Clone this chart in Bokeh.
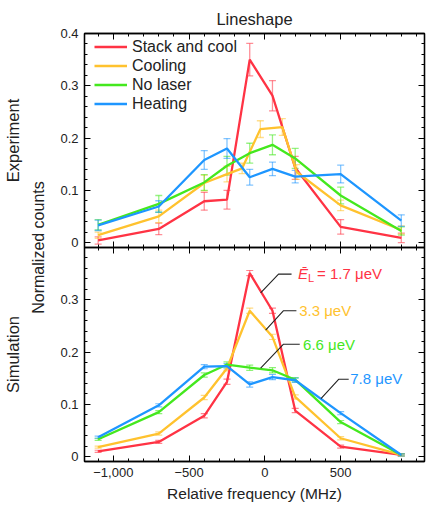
import math
from bokeh.plotting import figure
from bokeh.models import (Range1d, LinearAxis, FixedTicker, ColumnDataSource, Whisker,
                          TeeHead, Legend, LegendItem, Label, CustomJSTickFormatter)
from bokeh.embed import file_html
from bokeh.resources import INLINE

# ---------------- data ----------------
freq = [-1100, -700, -400, -250, -100, 50, 200, 500, 900]
freq_cool = [-1100, -700, -400, -250, -150, -30, 115, 210, 500, 900]

exp_stack = [0.004, 0.026, 0.079, 0.082, 0.350, 0.281, 0.143, 0.030, 0.009]
err_stack = [0.007, 0.011, 0.017, 0.018, 0.031, 0.029, 0.022, 0.014, 0.009]
exp_cool = [0.014, 0.050, 0.114, 0.131, 0.142, 0.217, 0.221, 0.135, 0.071, 0.024]
err_cool = [0.006, 0.012, 0.015, 0.015, 0.010, 0.016, 0.016, 0.014, 0.010, 0.008]
exp_nolaser = [0.034, 0.074, 0.115, 0.147, 0.171, 0.187, 0.161, 0.090, 0.022]
err_nolaser = [0.010, 0.016, 0.015, 0.018, 0.019, 0.019, 0.019, 0.016, 0.008]
exp_heat = [0.033, 0.069, 0.158, 0.180, 0.125, 0.141, 0.126, 0.131, 0.042]
err_heat = [0.010, 0.011, 0.018, 0.019, 0.015, 0.013, 0.012, 0.017, 0.011]

sim_17 = [0.010, 0.028, 0.078, 0.143, 0.351, 0.279, 0.088, 0.019, 0.003]
sim_33 = [0.018, 0.044, 0.113, 0.169, 0.279, 0.229, 0.114, 0.035, 0.003]
sim_66 = [0.033, 0.085, 0.156, 0.176, 0.170, 0.165, 0.147, 0.066, 0.003]
sim_78 = [0.037, 0.098, 0.172, 0.173, 0.138, 0.152, 0.146, 0.083, 0.003]
sim_err = [0.002, 0.003, 0.004, 0.005, 0.005, 0.005, 0.004, 0.003, 0.002]

series_names = ["Stack and cool", "Cooling", "No laser", "Heating"]
panel_names = ["Experiment", "Simulation"]
sim_texts = ["= 1.7 \u03bceV", "3.3 \u03bceV", "6.6 \u03bceV", "7.8 \u03bceV"]
x_tick_labels = {-1000: "\u22121,000", -500: "\u2212500", 0: "0", 500: "500"}

colors = ["#FF3344", "#FFC22E", "#44E81E", "#1E96FF"]
FONT = "Liberation Sans"
TXT = "#222222"

# ---------------- figure ----------------
X0, X1 = -1190, 1053
LO, HI = -0.0095, 0.4
SPAN = HI - LO

p = figure(width=428, height=507, x_range=Range1d(X0, X1),
           y_range=Range1d(LO - SPAN, HI), x_axis_type=None, y_axis_type=None,
           title="Lineshape",
           output_backend="svg", toolbar_location=None,
           min_border_left=77, min_border_right=4, min_border_top=33, min_border_bottom=46)
p.extra_y_ranges = {"sim": Range1d(LO, HI + SPAN)}
p.outline_line_color = "black"
p.outline_line_width = 1.3
p.title.align = "center"
p.title.text_font = FONT
p.title.text_font_size = "16.5px"
p.title.text_font_style = "normal"
p.title.text_color = TXT
p.title.standoff = 11

blank = CustomJSTickFormatter(code="return '';")

# ticks
x_major = [-1000, -500, 0, 500]
x_minor = list(range(-1100, 1001, 100))
xticker = FixedTicker(ticks=x_major, minor_ticks=x_minor)

y_major = [0.0, 0.1, 0.2, 0.3, 0.4]
y_ticks = y_major + [round(v - SPAN, 6) for v in y_major[:4]]
y_minor = [round(i * 0.02, 4) for i in range(21)] + [round(i * 0.02 - SPAN, 6) for i in range(20)]
yticker = FixedTicker(ticks=y_ticks, minor_ticks=y_minor)
yfmt = CustomJSTickFormatter(code="""
let v = tick < -0.05 ? tick + %f : tick;
v = Math.round(v * 10) / 10;
return v === 0 ? "0" : v.toFixed(1);
""" % SPAN)

def style_axis(ax, labels=True):
    ax.major_tick_in = 6
    ax.major_tick_out = 0
    ax.minor_tick_in = 3
    ax.minor_tick_out = 0
    ax.axis_line_color = "black"
    ax.axis_line_width = 1.3
    ax.major_tick_line_color = "black"
    ax.minor_tick_line_color = "black"
    if labels:
        ax.major_label_text_font = FONT
        ax.major_label_text_font_size = "13px"
        ax.major_label_text_color = TXT
    else:
        ax.formatter = blank
        ax.major_label_standoff = 0

def style_label(ax, size):
    ax.axis_label_text_font = FONT
    ax.axis_label_text_font_size = size
    ax.axis_label_text_font_style = "normal"
    ax.axis_label_text_color = TXT

bottom = LinearAxis(ticker=xticker, major_label_overrides=x_tick_labels,
                    axis_label="Relative frequency (MHz)")
style_axis(bottom)
bottom.major_label_standoff = 6
bottom.axis_label_standoff = 5
style_label(bottom, "15.5px")
p.add_layout(bottom, "below")

top = LinearAxis(ticker=xticker)
style_axis(top, labels=False)
p.add_layout(top, "above")

mid_b = LinearAxis(ticker=xticker, fixed_location=LO)
style_axis(mid_b, labels=False)
p.add_layout(mid_b, "below")
mid_a = LinearAxis(ticker=xticker, fixed_location=LO)
style_axis(mid_a, labels=False)
p.add_layout(mid_a, "above")

left = LinearAxis(ticker=yticker, formatter=yfmt, axis_label="Normalized counts")
style_axis(left)
left.major_label_standoff = 6
left.axis_label_standoff = 10
style_label(left, "16px")
p.add_layout(left, "left")

# outer left axis carrying the panel names at the panel centres
panel_ticker = FixedTicker(ticks=[(LO + HI) / 2, (LO + HI) / 2 - SPAN], minor_ticks=[])
panel_fmt = CustomJSTickFormatter(args=dict(names=panel_names),
                                  code="return tick > 0 ? names[0] : names[1];")
outer = LinearAxis(ticker=panel_ticker, formatter=panel_fmt)
outer.axis_line_color = None
outer.major_tick_line_color = None
outer.minor_tick_line_color = None
outer.major_tick_in = 0
outer.major_tick_out = 0
outer.major_label_orientation = "vertical"
outer.major_label_standoff = 6
outer.major_label_text_font = FONT
outer.major_label_text_font_size = "16.5px"
outer.major_label_text_color = TXT
p.add_layout(outer, "left")

right = LinearAxis(ticker=yticker)
style_axis(right, labels=False)
p.add_layout(right, "right")

# ---------------- experiment ----------------
exp_sets = [(freq, exp_stack, err_stack), (freq_cool, exp_cool, err_cool),
            (freq, exp_nolaser, err_nolaser), (freq, exp_heat, err_heat)]
items = []
for (xs, ys, es), c, name in zip(exp_sets, colors, series_names):
    src = ColumnDataSource(dict(x=xs, y=ys,
                                lo=[a - b for a, b in zip(ys, es)],
                                hi=[a + b for a, b in zip(ys, es)]))
    w = Whisker(base="x", upper="hi", lower="lo", source=src, line_color=c,
                line_alpha=0.55, line_width=1.3,
                upper_head=TeeHead(size=7, line_color=c, line_alpha=0.55, line_width=1.3),
                lower_head=TeeHead(size=7, line_color=c, line_alpha=0.55, line_width=1.3))
    p.add_layout(w)
    r = p.line("x", "y", source=src, line_color=c, line_width=2.3)
    items.append(LegendItem(label=name, renderers=[r]))

legend = Legend(items=items, location=(10, 348), padding=0, margin=0, spacing=0,
                label_height=19, glyph_height=19, glyph_width=33, label_standoff=5,
                background_fill_alpha=0, border_line_alpha=0,
                label_text_font=FONT, label_text_font_size="16px",
                label_text_color=TXT)
p.add_layout(legend)

# ---------------- simulation ----------------
sim_sets = [sim_17, sim_33, sim_66, sim_78]
for ys, c in zip(sim_sets, colors):
    src = ColumnDataSource(dict(x=freq, y=ys,
                                lo=[a - b for a, b in zip(ys, sim_err)],
                                hi=[a + b for a, b in zip(ys, sim_err)]))
    w = Whisker(base="x", upper="hi", lower="lo", source=src, line_color=c,
                line_alpha=0.6, line_width=1.2, y_range_name="sim",
                upper_head=TeeHead(size=7, line_color=c, line_alpha=0.6, line_width=1.2),
                lower_head=TeeHead(size=7, line_color=c, line_alpha=0.6, line_width=1.2))
    p.add_layout(w)
    p.line("x", "y", source=src, line_color=c, line_width=2.3, y_range_name="sim")

# callout leaders (annotation geometry)
leaders = [([-28, 90, 176], [0.313, 0.349, 0.349]),
           ([5, 123, 208], [0.242, 0.279, 0.279]),
           ([-28, 123, 230], [0.169, 0.215, 0.215]),
           ([370, 488, 553], [0.111, 0.148, 0.148])]
text_pos = [(219, 0.351), (226, 0.279), (252, 0.215), (563, 0.149)]
for (lx, ly) in leaders:
    p.line(lx, ly, line_color=TXT, line_width=1.1, y_range_name="sim")

for i, ((tx, ty), t, c) in enumerate(zip(text_pos, sim_texts, colors)):
    if i == 0:
        p.add_layout(Label(x=tx, y=ty, text="\u0112", y_range_name="sim",
                           text_font=FONT, text_font_size="15px", text_font_style="italic",
                           text_color=c, text_baseline="middle", text_align="left"))
        p.add_layout(Label(x=tx, y=ty, text="L", y_range_name="sim", x_offset=10, y_offset=-5,
                           text_font=FONT, text_font_size="11px",
                           text_color=c, text_baseline="middle", text_align="left"))
        p.add_layout(Label(x=tx, y=ty, text=t, y_range_name="sim", x_offset=19,
                           text_font=FONT, text_font_size="15px",
                           text_color=c, text_baseline="middle", text_align="left"))
    else:
        p.add_layout(Label(x=tx, y=ty, text=t, y_range_name="sim",
                           text_font=FONT, text_font_size="15px",
                           text_color=c, text_baseline="middle", text_align="left"))

open("out.html", "w").write(file_html(p, INLINE))
